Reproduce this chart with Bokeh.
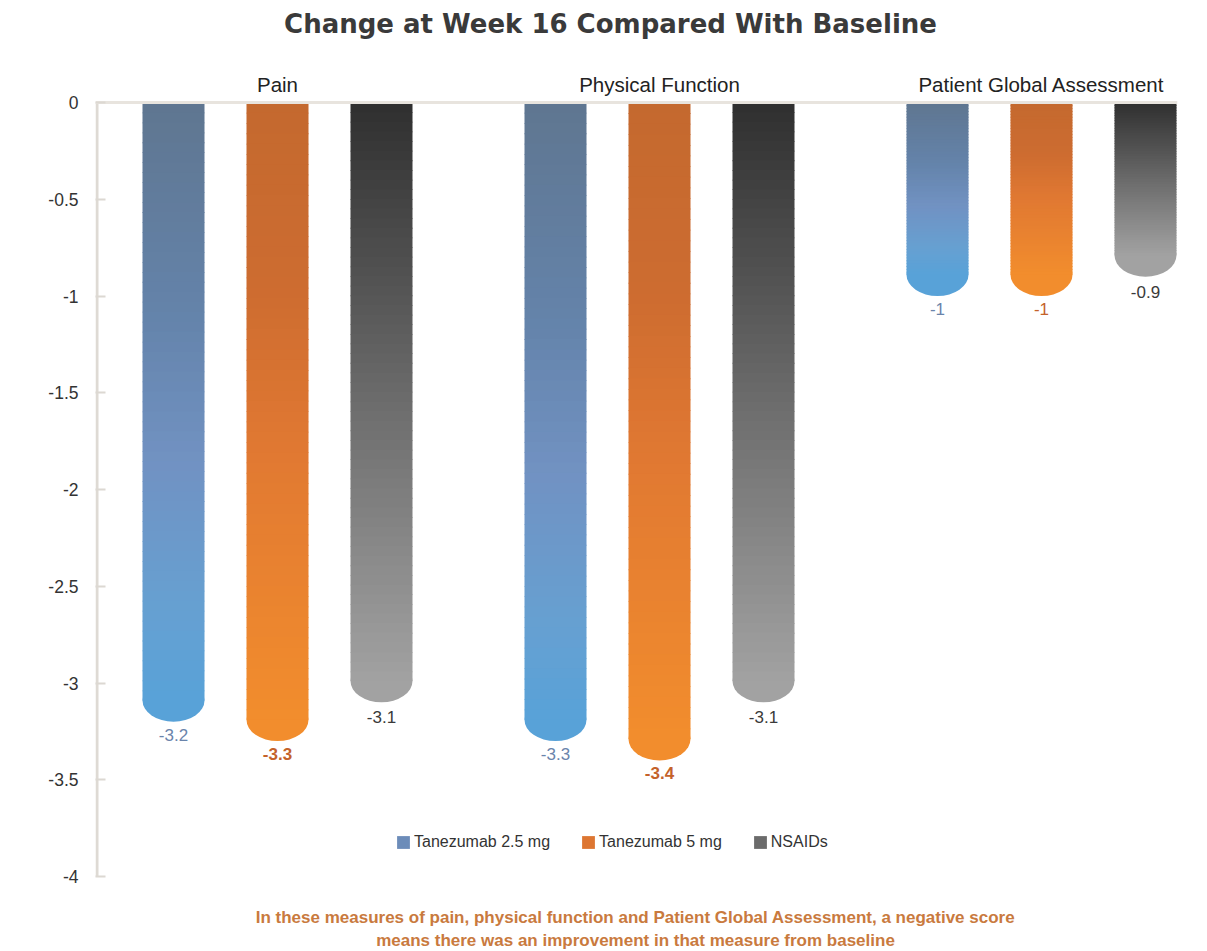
import numpy as np
from bokeh.plotting import figure
from bokeh.models import Range1d, FixedTicker, Legend, LegendItem, ColumnDataSource
from bokeh.core.properties import value
from bokeh.embed import file_html
from bokeh.resources import INLINE

# ---------------- data ----------------
title_text = "Change at Week 16 Compared With Baseline"
groups = ["Pain", "Physical Function", "Patient Global Assessment"]
series = ["Tanezumab 2.5 mg", "Tanezumab 5 mg", "NSAIDs"]
tanezumab_2_5mg = [-3.2, -3.3, -1.0]
tanezumab_5mg = [-3.3, -3.4, -1.0]
nsaids = [-3.1, -3.1, -0.9]
y_ticks = [0, -0.5, -1, -1.5, -2, -2.5, -3, -3.5, -4]
y_tick_labels = ["0", "-0.5", "-1", "-1.5", "-2", "-2.5", "-3", "-3.5", "-4"]
footer_lines = [
    "In these measures of pain, physical function and Patient Global Assessment, a negative score",
    "means there was an improvement in that measure from baseline",
]
series_values = [tanezumab_2_5mg, tanezumab_5mg, nsaids]

# ---------------- layout / style ----------------
W, H = 1207, 951
FRAME_LEFT = 95
PX_GROUP = 382.0          # pixels per group step
PX_UNIT = 193.5           # pixels per y unit
ZERO_PX = 102.0           # pixel row of y = 0
FIRST_GROUP_PX = 277.0    # pixel column of first group centre

x_start = (FRAME_LEFT - FIRST_GROUP_PX) / PX_GROUP
x_end = x_start + (W - FRAME_LEFT) / PX_GROUP
y_end = ZERO_PX / PX_UNIT
y_start = -(H - ZERO_PX) / PX_UNIT

def px_to_y(py):
    return (ZERO_PX - py) / PX_UNIT

def px_to_x(px):
    return (px - FIRST_GROUP_PX) / PX_GROUP

bar_w = 62 / PX_GROUP
bar_step = 104 / PX_GROUP
cap_r = 0.11
N_SLICES = 60

stops = [
    [(0.0, "#5f7690"), (0.35, "#6483aa"), (0.6, "#7192c2"), (0.85, "#66a0d2"), (1.0, "#58a2d8")],
    [(0.0, "#c4692f"), (0.3, "#cd6c30"), (0.55, "#e07832"), (1.0, "#f28d2d")],
    [(0.0, "#2f2f2f"), (0.5, "#6a6a6a"), (1.0, "#a2a2a2")],
]
label_colors = ["#6a84ab", "#c4622a", "#3a3a3a"]
label_styles = [["normal"] * 3, ["bold", "bold", "normal"], ["normal"] * 3]
label_offsets = [13, 13, 15]
FONT = "Liberation Sans"


def hex_to_rgb(h):
    h = h.lstrip("#")
    return np.array([int(h[i:i + 2], 16) for i in (0, 2, 4)], dtype=float)


def grad_color(st, t):
    ts = [a for a, _ in st]
    cs = np.array([hex_to_rgb(c) for _, c in st])
    rgb = [np.interp(t, ts, cs[:, k]) for k in range(3)]
    return "#%02x%02x%02x" % tuple(int(round(v)) for v in rgb)


p = figure(width=W, height=H, x_range=Range1d(x_start, x_end), y_range=Range1d(y_start, y_end),
           output_backend="svg", toolbar_location=None, x_axis_location=None,
           min_border_left=FRAME_LEFT, min_border_right=0, min_border_top=0, min_border_bottom=0)
p.outline_line_color = None
p.xgrid.visible = False
p.ygrid.visible = False
p.background_fill_color = "white"
p.border_fill_color = "white"

yax = p.yaxis[0]
yax.ticker = FixedTicker(ticks=y_ticks)
yax.major_label_overrides = {float(t): l for t, l in zip(y_ticks, y_tick_labels)}
yax.axis_line_color = None
yax.major_tick_in = 10
yax.major_tick_out = 0
yax.major_tick_line_color = "#dcd8d2"
yax.major_tick_line_width = 2
yax.minor_tick_line_color = None
yax.major_label_standoff = 17
yax.major_label_text_font = FONT
yax.major_label_text_font_size = "17.5px"
yax.major_label_text_color = "#333333"

# axis line from 0 to -4
p.segment(x0=[x_start + 1.5 / PX_GROUP], y0=[y_ticks[0]], x1=[x_start + 1.5 / PX_GROUP], y1=[y_ticks[-1]],
          line_color="#dedad4", line_width=3)

bar_renderers = []
for s, vals in enumerate(series_values):
    left, right, top, bottom, color = [], [], [], [], []
    cx, cy, ccol = [], [], []
    for g, v in enumerate(vals):
        x = g + (s - 1) * bar_step
        body_end = v + cap_r
        edges = np.linspace(0, body_end, N_SLICES + 1)
        for k in range(N_SLICES):
            t = ((edges[k] + edges[k + 1]) / 2) / body_end
            left.append(x - bar_w / 2)
            right.append(x + bar_w / 2)
            top.append(edges[k])
            bottom.append(edges[k + 1] - 0.004 if k < N_SLICES - 1 else edges[k + 1])
            color.append(grad_color(stops[s], t))
        cx.append(x)
        cy.append(body_end)
        ccol.append(grad_color(stops[s], 1.0))
    # rounded bottom end (drawn behind the body so only its lower half shows)
    p.ellipse(x=cx, y=cy, width=bar_w, height=2 * cap_r, fill_color=ccol, line_color=None)
    src = ColumnDataSource(dict(left=left, right=right, top=top, bottom=bottom, color=color))
    r = p.quad(left="left", right="right", top="top", bottom="bottom", fill_color="color",
               line_color=None, source=src)
    bar_renderers.append(r)
    # value labels
    for g, v in enumerate(vals):
        x = g + (s - 1) * bar_step
        p.text(x=[x], y=[v], text=[f"{v:g}"], text_font=value(FONT), text_font_size="17px",
               text_font_style=label_styles[s][g], text_color=label_colors[s],
               text_align="center", text_baseline="middle", y_offset=label_offsets[s])

# zero line across the top
p.segment(x0=[x_start], y0=[0], x1=[len(groups) - 1 + bar_step + bar_w / 2 + 0.002], y1=[0],
          line_color="#e8e4de", line_width=3)

# group labels
p.text(x=list(range(len(groups))), y=[px_to_y(84)] * len(groups), text=groups,
       text_font=value(FONT), text_font_size="20.5px", text_color="#222222",
       text_align="center", text_baseline="middle")

# title
p.text(x=[px_to_x(610)], y=[px_to_y(23)], text=[title_text], text_font=value("DejaVu Sans"),
       text_font_size="26px", text_font_style="bold", text_color="#3a3a3a",
       text_align="center", text_baseline="middle")

# footer
p.text(x=[px_to_x(635)] * 2, y=[px_to_y(917), px_to_y(940)], text=footer_lines,
       text_font=value(FONT), text_font_size="17px", text_font_style="bold",
       text_color="#c97a3e", text_align="center", text_baseline="middle")

legend = Legend(items=[LegendItem(label=series[i], renderers=[bar_renderers[i]], index=N_SLICES // 2)
                       for i in range(len(series))],
                location=(300, 100), orientation="horizontal", padding=0, margin=0, spacing=30,
                label_standoff=3, glyph_width=16, glyph_height=16,
                label_text_font=FONT, label_text_font_size="16px", label_text_color="#333333",
                border_line_color=None, background_fill_alpha=0)
p.add_layout(legend)

open("out.html", "w").write(file_html(p, INLINE))
